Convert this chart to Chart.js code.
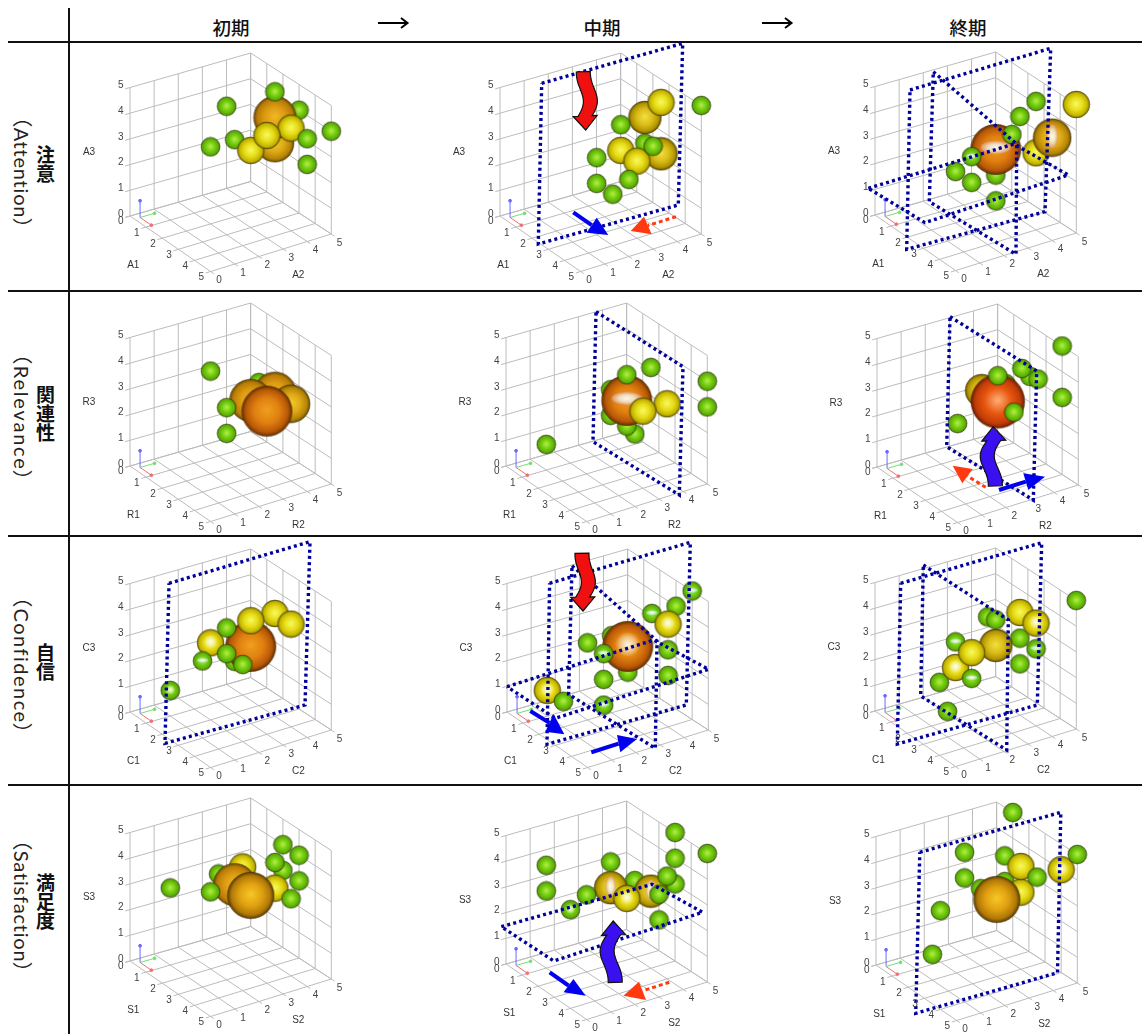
<!DOCTYPE html>
<html>
<head>
<meta charset="utf-8">
<title>ARCS</title>
<script src="https://cdn.jsdelivr.net/npm/chart.js@4"></script>
<style>
  html, body { margin: 0; padding: 0; background: #fff; }
  body { position: relative; width: 1142px; height: 1034px; overflow: hidden; font-family: "Noto Sans CJK JP", sans-serif; }
  canvas { position: absolute; filter: blur(0.4px); }
  .rule { position: absolute; background: #111; }
  .head { position: absolute; top: 13px; width: 80px; text-align: center; font-size: 18.5px; line-height: 28px; font-weight: 500; color: #111; }
  .kanji { position: absolute; left: 34px; width: 22px; writing-mode: vertical-rl; font-size: 19px; line-height: 22px; font-weight: 600; color: #111; letter-spacing: 0; }
  .latin { position: absolute; left: 11px; width: 22px; writing-mode: vertical-rl; font-family: Lato, "Noto Sans CJK JP", sans-serif; font-size: 20px; line-height: 22px; font-weight: 400; color: #222; white-space: nowrap; }
  svg { position: absolute; }
</style>
</head>
<body>
<script>
// 値は [軸1, 軸2, 軸3, 人数]
const attentionStart = [[3,2,5,1],[2,2,3,1],[2,3,3,1],[3,3,3,2],[4,3,4,2],[4,4,4,2],[3,4,4,5],[3,4,3,4],[3,4,5,1],[3,5,4,1],[5,4,4,1],[5,4,3,1],[5,5,4,1]];
const attentionMiddle = [[4,4,5,2],[5,5,5,1],[3,4,4,3],[3,3,4,1],[3,4,3,1],[3,3,3,2],[5,3,4,1],[4,4,3,3],[4,3,3,2],[3,2,3,1],[3,2,2,1],[4,2,2,1],[5,2,3,1]];
const attentionEnd = [[5,5,5,2],[4,4,5,1],[3,4,4,1],[4,3,4,1],[5,4,4,4],[4,4,3,2],[3,3,3,7],[3,2,3,1],[2,2,2,1],[3,2,2,1],[3,3,2,1],[3,3,1,1]];

const relevanceStart = [[2,2,4,1],[3,2,3,1],[3,2,2,1],[2,4,3,1],[3,3,3,5],[3,4,3,5],[4,4,3,4],[4,3,3,7]];
const relevanceMiddle = [[1,1,1,1],[3,4,4,1],[3,3,4,1],[5,5,4,1],[5,5,3,1],[2,3,3,1],[2,3,2,1],[3,3,3,7],[4,3,3,2],[4,4,3,2],[3,3,2,1],[2,4,1,1]];
const relevanceEnd = [[4,5,5,1],[4,5,3,1],[3,4,4,1],[4,4,4,1],[2,5,3,1],[3,3,4,1],[2,4,3,1],[2,3,3,3],[3,3,3,8],[4,3,3,1],[2,2,2,1]];

const confidenceStart = [[1,1,1,1],[3,1,3,1],[2,2,3,2],[3,2,4,1],[3,2,3,1],[4,2,3,1],[2,3,2,1],[3,3,3,7],[3,3,4,2],[3,4,4,2],[4,4,4,2]];
const confidenceMiddle = [[1,1,1,2],[2,1,1,1],[3,2,1,1],[2,2,3,1],[3,2,3,1],[3,2,2,1],[2,3,3,1],[3,3,2,1],[3,3,3,7],[4,4,4,2],[3,4,4,1],[3,5,4,1],[4,5,5,1],[4,4,3,1],[4,4,2,1]];
const confidenceEnd = [[5,5,5,1],[3,4,4,2],[4,4,4,2],[1,4,3,1],[3,3,4,1],[3,4,3,1],[3,4,2,1],[4,4,3,1],[3,3,3,3],[3,2,3,2],[2,2,3,1],[2,2,2,2],[3,2,2,1],[1,2,1,1],[3,1,1,1]];

const satisfactionStart = [[1,1,3,1],[2,2,3,1],[1,3,3,1],[1,4,3,2],[2,3,3,5],[3,3,3,6],[3,4,3,2],[2,5,4,1],[3,5,4,1],[3,4,4,1],[2,5,3,1],[3,5,3,1],[4,4,3,1]];
const satisfactionMiddle = [[1,1,4,1],[1,1,3,1],[1,2,2,1],[2,2,3,1],[2,3,4,1],[2,3,3,3],[2,4,3,1],[3,3,3,2],[3,4,3,3],[3,5,5,1],[3,5,4,1],[5,5,5,1],[4,4,4,1],[3,5,3,1],[5,3,4,1],[5,3,3,1]];
const satisfactionEnd = [[1,5,5,1],[1,3,4,1],[1,3,3,1],[1,2,2,1],[2,1,1,1],[2,4,4,1],[3,4,4,2],[4,4,4,1],[4,5,4,2],[5,5,5,1],[2,4,3,1],[2,3,3,1],[3,4,3,2],[3,3,3,6]];

const tickValues = [0, 1, 2, 3, 4, 5];
const periodLabels = ['初期', '中期', '終期'];
const axisLetters = ['A', 'R', 'C', 'S'];
const kanjiLabels = ['注意', '関連性', '自信', '満足度'];
const latinLabels = ['（Attention）', '（Relevance）', '（Confidence）', '（Satisfaction）'];

// 各パネルの原点(ページ座標)
const panelOriginsX = [[130, 500, 875], [130, 506, 877], [130, 507, 875], [130, 506, 876]];
const panelOriginsY = [[216, 216, 215], [466, 466, 467], [712, 712, 711], [961, 964, 965]];
const panelValues = [
  [attentionStart, attentionMiddle, attentionEnd],
  [relevanceStart, relevanceMiddle, relevanceEnd],
  [confidenceStart, confidenceMiddle, confidenceEnd],
  [satisfactionStart, satisfactionMiddle, satisfactionEnd],
];

// 点線の面 (パネルのスケール上の四隅)
const panelPlanes = {
  '0,1': [[[41.7,132.7],[182.7,172.7],[178.3,11],[38.3,-28]]],
  '0,2': [[[35,125],[175.7,166.7],[170,3.3],[31.7,-34.3]], [[58.3,143.3],[141.7,71],[141,-39.3],[54.3,13.3]], [[-6.7,26.7],[139,71],[193.3,40],[50,-7.7]]],
  '1,1': [[[90,154.3],[177,99.3],[173.3,-29],[87,24.3]]],
  '1,2': [[[73,150.3],[159.7,96],[156.3,-33],[69.7,20.3]]],
  '2,0': [[[39,128.7],[180,170.3],[175,7],[35,-31.3]]],
  '2,1': [[[42.6,128.7],[183.3,169.7],[179.3,7],[40,-32.3]], [[65,146.3],[150,71],[148.3,-36.3],[61.6,17.7]], [[0,25.3],[146.6,72],[201.6,42.7],[48.3,-6.3]]],
  '2,2': [[[25.7,127.7],[166.7,168.3],[162.3,6],[22.3,-33]], [[48.3,146],[133.3,91],[131.7,-39],[45.7,15]]],
  '3,1': [[[-4.7,37.3],[146,79.7],[196.5,51.7],[47.8,3]]],
  '3,2': [[[43.8,112.7],[184.8,152.7],[181.5,-7.7],[39.7,-48.3]]],
};

// 矢印
const panelArrows = {
  '0,1': [
    { kind: 'blue', from: [73.3,3.7], tip: [108.3,-19], wing1: [96.7,-1.7], wing2: [86.7,-16.7] },
    { kind: 'red', from: [176,-0.7], tip: [130.7,-15], wing1: [144,-0.7], wing2: [151.7,-18.3] },
    { kind: 'wavyRed', from: [83.3,144.3], tip: [85.7,86], amp: -5 },
  ],
  '1,2': [
    { kind: 'red', from: [108.7,-20.3], tip: [75.7,1.3], wing1: [95.7,-2], wing2: [85.3,-16.3] },
    { kind: 'blue', from: [122,-23], tip: [168,-9.7], wing1: [146.3,-6.3], wing2: [151.3,-23] },
    { kind: 'wavyBlue', from: [118.3,-19], tip: [116.3,40.3], amp: -6 },
  ],
  '2,1': [
    { kind: 'wavyRed', from: [75,158.7], tip: [76,101], amp: -5 },
    { kind: 'blue', from: [23.3,1], tip: [57.3,-22.3], wing1: [46.6,-2], wing2: [38.3,-19.7] },
    { kind: 'blue', from: [84.3,-40.3], tip: [130,-27], wing1: [110,-23], wing2: [113.3,-40.3] },
  ],
  '3,1': [
    { kind: 'blue', from: [43.7,-8.3], tip: [79.7,-31.7], wing1: [67.4,-15], wing2: [57.6,-28.3] },
    { kind: 'red', from: [163.3,-18.3], tip: [117.4,-31.7], wing1: [133,-17.7], wing2: [140,-36] },
    { kind: 'wavyBlue', from: [109.2,-18.3], tip: [107.2,43], amp: -6 },
  ],
};

// 面と交わる球の光沢
const panelGlints = {
  '0,2': { '3,3,3': 'h', '3,2,3': 'h', '5,4,4': 'v' },
  '1,1': { '3,3,3': 'h' },
  '2,0': { '1,1,1': 'r', '3,1,3': 'h', '2,2,3': 'r' },
  '2,1': { '1,1,1': 'r', '3,2,1': 'h', '3,2,3': 'h', '3,3,3': 'r', '4,4,4': 'r', '3,4,4': 'h', '4,5,5': 'h' },
  '2,2': { '4,4,4': 'r', '4,4,3': 'h', '2,2,3': 'h', '2,2,2': 'r', '3,2,2': 'h' },
  '3,1': { '1,2,2': 'r', '2,3,3': 'v', '3,3,3': 'r', '3,4,3': 'v' },
  '3,2': { '4,5,4': 'r' },
};

const spherePalette = {
  1: ['#b4f048', '#74cc10', '#5cac06', '#356a00'],
  2: ['#fafa60', '#e6dc18', '#c4b400', '#746a00'],
  3: ['#f2e040', '#dabc18', '#b09400', '#685000'],
  4: ['#f4cc30', '#dea814', '#b48408', '#6a4a00'],
  5: ['#f2b828', '#dc9a10', '#b87c08', '#6c4600'],
  6: ['#f8c828', '#e0a010', '#b07808', '#5c3c00'],
  7: ['#f0a020', '#e08010', '#b85808', '#663000'],
  8: ['#ffb078', '#e8560e', '#c03c08', '#6c1c04'],
};

// 3次元の値をパネルの2次元スケールへ
function project(a1, a2, a3) {
  return { x: 16.13 * a1 + 24.13 * a2, y: -11.1 * a1 + 6.9 * a2 + 0.12 * a1 * a2 + 25.7 * a3 };
}

function sphereRadius(n) {
  return 9.5 * Math.sqrt(n);
}

const sphereCache = {};
function sphereImage(n, glint) {
  const key = n + (glint || '');
  if (sphereCache[key]) return sphereCache[key];
  const r = sphereRadius(n);
  const c = document.createElement('canvas');
  c.width = c.height = Math.ceil(2 * r + 2);
  const g = c.getContext('2d');
  const mid = c.width / 2;
  const colors = spherePalette[n];
  const grad = g.createRadialGradient(mid, mid - r * 0.05, 0, mid, mid, r);
  grad.addColorStop(0, colors[0]);
  grad.addColorStop(0.5, colors[1]);
  grad.addColorStop(0.84, colors[2]);
  grad.addColorStop(1, colors[3]);
  g.fillStyle = grad;
  g.beginPath();
  g.arc(mid, mid, r, 0, Math.PI * 2);
  g.fill();
  g.strokeStyle = 'rgba(40,30,0,0.55)';
  g.lineWidth = 0.8;
  g.stroke();
  if (glint) {
    const rx = glint === 'v' ? 0.3 : glint === 'h' ? 0.6 : 0.5;
    const ry = glint === 'h' ? 0.26 : glint === 'v' ? 0.62 : 0.5;
    g.save();
    g.translate(mid, mid - r * 0.08);
    g.scale(rx * r, ry * r);
    const shine = g.createRadialGradient(0, 0, 0, 0, 0, 1);
    let rim = 'rgba(225,150,120,0.8)';
    if (n === 1) rim = 'rgba(120,235,160,0.85)';
    else if (n === 2) rim = 'rgba(255,250,150,0.3)';
    if (glint === 'r') rim = 'rgba(255,255,255,0)';
    shine.addColorStop(0, 'rgba(255,255,255,0.92)');
    shine.addColorStop(0.55, glint === 'r' ? 'rgba(250,245,225,0.55)' : 'rgba(240,238,225,0.8)');
    shine.addColorStop(1, rim);
    g.fillStyle = shine;
    g.beginPath();
    g.arc(0, 0, 1, 0, Math.PI * 2);
    g.fill();
    g.restore();
  }
  sphereCache[key] = c;
  return c;
}

function gridPoints() {
  const pts = [];
  const seg = (p, q) => { pts.push(project(...p), project(...q), { x: null, y: null }); };
  tickValues.forEach(t => {
    seg([0, t, 0], [0, t, 5]);   // 左の壁 縦
    seg([0, 0, t], [0, 5, t]);   // 左の壁 横
    seg([t, 5, 0], [t, 5, 5]);   // 右の壁 縦
    seg([0, 5, t], [5, 5, t]);   // 右の壁 横
    seg([t, -0.2, 0], [t, 5, 0]); // 床
    seg([0, t, 0], [5.2, t, 0]);  // 床
    seg([0, -0.2, t], [0, 0, t]); // 目盛
  });
  return pts;
}

function tripodSet(dx, dy, dz, color) {
  return {
    data: [project(0.31, 0.21, 0.02), project(0.31 + dx, 0.21 + dy, 0.02 + dz)],
    showLine: true, borderColor: color, borderWidth: 1, pointRadius: [0, 1.4],
    pointBackgroundColor: color, pointBorderColor: color, clip: false,
  };
}

function drawStraightArrow(ctx, sx, sy, a) {
  const isBlue = a.kind === 'blue';
  const color = isBlue ? '#0000ee' : '#ff3a10';
  const mx = (a.wing1[0] + a.wing2[0]) / 2, my = (a.wing1[1] + a.wing2[1]) / 2;
  ctx.save();
  ctx.strokeStyle = color;
  ctx.fillStyle = color;
  ctx.lineWidth = isBlue ? 4 : 3;
  if (!isBlue) ctx.setLineDash([4, 3]);
  ctx.beginPath();
  ctx.moveTo(sx(a.from[0]), sy(a.from[1]));
  ctx.lineTo(sx(mx), sy(my));
  ctx.stroke();
  ctx.setLineDash([]);
  ctx.beginPath();
  ctx.moveTo(sx(a.tip[0]), sy(a.tip[1]));
  ctx.lineTo(sx(a.wing1[0]), sy(a.wing1[1]));
  ctx.lineTo(sx(a.wing2[0]), sy(a.wing2[1]));
  ctx.closePath();
  ctx.fill();
  ctx.restore();
}

function drawWavyArrow(ctx, sx, sy, a) {
  const bodyW = 14, headW = 24, headL = 14;
  const x0 = sx(a.from[0]), y0 = sy(a.from[1]), x1 = sx(a.tip[0]), y1 = sy(a.tip[1]);
  const len = Math.hypot(x1 - x0, y1 - y0);
  const ux = (x1 - x0) / len, uy = (y1 - y0) / len;
  const px = -uy, py = ux;
  const body = len - headL;
  const at = (t, side) => {
    const wave = Math.sin(Math.PI * Math.pow(t, 1.3)) - 0.25 * Math.sin(2 * Math.PI * t);
    const off = a.amp * wave + side * bodyW / 2;
    return [x0 + ux * body * t + px * off, y0 + uy * body * t + py * off];
  };
  ctx.save();
  ctx.fillStyle = a.kind === 'wavyRed' ? '#f01010' : '#3a10f0';
  ctx.strokeStyle = '#111';
  ctx.lineWidth = 1.2;
  ctx.beginPath();
  for (let i = 0; i <= 20; i++) {
    const p = at(i / 20, -1);
    if (i === 0) ctx.moveTo(p[0], p[1]); else ctx.lineTo(p[0], p[1]);
  }
  const nx = x0 + ux * body, ny = y0 + uy * body;
  ctx.lineTo(nx - px * headW / 2, ny - py * headW / 2);
  ctx.lineTo(x1, y1);
  ctx.lineTo(nx + px * headW / 2, ny + py * headW / 2);
  for (let i = 20; i >= 0; i--) {
    const p = at(i / 20, 1);
    ctx.lineTo(p[0], p[1]);
  }
  ctx.closePath();
  ctx.fill();
  ctx.stroke();
  ctx.restore();
}

const boxTextPlugin = {
  id: 'boxText',
  afterDatasetsDraw(chart, args, opts) {
    const { ctx, scales } = chart;
    const sx = v => scales.x.getPixelForValue(v);
    const sy = v => scales.y.getPixelForValue(v);
    const put = (txt, p, ox, oy) => ctx.fillText(txt, sx(p.x) + ox, sy(p.y) + oy);
    ctx.save();
    ctx.font = '10px "Liberation Sans", sans-serif';
    ctx.fillStyle = '#444';
    ctx.textAlign = 'center';
    ctx.textBaseline = 'middle';
    tickValues.forEach(t => {
      put(String(t), project(t, 0, 0), -9.3, 5.7);
      put(String(t), project(5, t, 0), 8.3, 8.8);
      put(String(t), project(0, 0, t), -9.3, -2);
    });
    ctx.fillStyle = '#333';
    const origin = project(0, 0, 0);
    put(opts.letter + '3', origin, -41, -64);
    put(opts.letter + '1', origin, 3.3, 49);
    put(opts.letter + '2', origin, 168.3, 59.7);
    ctx.restore();
    (opts.arrows || []).forEach(a => {
      if (a.kind === 'blue' || a.kind === 'red') drawStraightArrow(ctx, sx, sy, a);
      else drawWavyArrow(ctx, sx, sy, a);
    });
  },
};

function buildPanel(row, col) {
  const ox = panelOriginsX[row][col], oy = panelOriginsY[row][col];
  const key = row + ',' + col;
  const glints = panelGlints[key] || {};
  const canvas = document.createElement('canvas');
  canvas.width = 320;
  canvas.height = 260;
  canvas.style.left = (ox - 80) + 'px';
  canvas.style.top = (oy - 180) + 'px';
  document.body.appendChild(canvas);

  const spheres = panelValues[row][col].slice()
    .sort((p, q) => (0.74 * p[0] - 0.49 * p[1] + 0.45 * p[2]) - (0.74 * q[0] - 0.49 * q[1] + 0.45 * q[2]))
    .map(p => {
      const xy = project(p[0], p[1], p[2]);
      return { x: xy.x, y: xy.y, r: sphereRadius(p[3]), n: p[3], glint: glints[p.slice(0, 3).join(',')] };
    });

  const planeSets = (panelPlanes[key] || []).map(corners => ({
    data: corners.concat([corners[0]]).map(c => ({ x: c[0], y: c[1] })),
    showLine: true, borderColor: '#00009c', borderWidth: 3.4, borderDash: [3, 3.2],
    pointRadius: 0, tension: 0, clip: false,
  }));

  new Chart(canvas, {
    type: 'scatter',
    data: {
      // 先頭のデータセットが一番上に描かれる
      datasets: planeSets.concat([
        { type: 'bubble', data: spheres, clip: false, pointStyle: c => sphereImage(c.raw.n, c.raw.glint) },
        tripodSet(0, 0, 0.65, '#6a6aff'),
        tripodSet(0, 0.6, 0, '#70e070'),
        tripodSet(0.7, 0, 0, '#f07070'),
        { data: gridPoints(), showLine: true, borderColor: '#bcbcbc', borderWidth: 1, pointRadius: 0, spanGaps: false, clip: false },
      ]),
    },
    options: {
      responsive: false,
      animation: false,
      events: [],
      layout: { padding: 0, autoPadding: false },
      scales: {
        x: { type: 'linear', min: -80, max: 240, display: false },
        y: { type: 'linear', min: -80, max: 180, display: false },
      },
      plugins: {
        legend: { display: false },
        tooltip: { enabled: false },
        boxText: { letter: axisLetters[row], arrows: panelArrows[key] },
      },
    },
    plugins: [boxTextPlugin],
  });
}

function addEl(cls, text, style) {
  const el = document.createElement('div');
  el.className = cls;
  if (text) el.textContent = text;
  Object.assign(el.style, style);
  document.body.appendChild(el);
}

// 表の罫線と見出し
[42, 291, 536, 785].forEach(y => addEl('rule', '', { left: '8px', top: (y - 1) + 'px', width: '1134px', height: '2px' }));
addEl('rule', '', { left: '67.5px', top: '8px', width: '2px', height: '1026px' });

periodLabels.forEach((t, i) => addEl('head', t, { left: [191, 562, 928][i] + 'px' }));
const kanjiTops = [145, 385, 643, 873];
const latinTops = [107, 344, 587, 830];
const latinSpacing = ['0.8px', '1.8px', '1.5px', '0.8px'];
kanjiLabels.forEach((t, i) => addEl('kanji', t, { top: kanjiTops[i] + 'px' }));
latinLabels.forEach((t, i) => addEl('latin', t, { top: latinTops[i] + 'px', letterSpacing: latinSpacing[i] }));

[378, 762].forEach(x => {
  const ns = 'http://www.w3.org/2000/svg';
  const svg = document.createElementNS(ns, 'svg');
  svg.setAttribute('width', 32);
  svg.setAttribute('height', 14);
  svg.style.left = x + 'px';
  svg.style.top = '16px';
  svg.innerHTML = '<path d="M0 7 H29 M23 2 L29.5 7 L23 12" fill="none" stroke="#000" stroke-width="2"/>';
  document.body.appendChild(svg);
});

for (let row = 0; row < 4; row++) {
  for (let col = 0; col < 3; col++) buildPanel(row, col);
}
</script>
</body>
</html>
